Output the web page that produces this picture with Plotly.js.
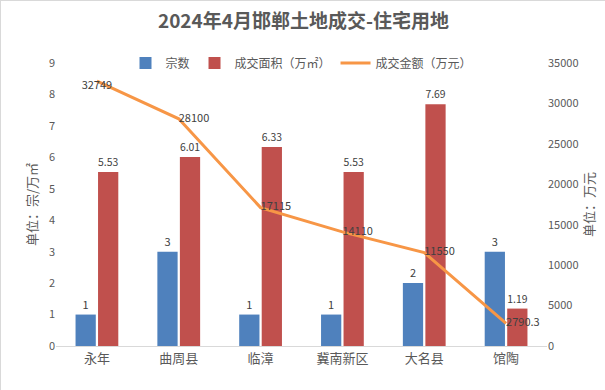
<!DOCTYPE html>
<html>
<head>
<meta charset="utf-8">
<script src="https://cdn.plot.ly/plotly-3.0.1.min.js"></script>
<style>
html,body{margin:0;padding:0;background:#fff;}
#chart{width:605px;height:390px;box-sizing:border-box;border:1px solid #d9d9d9;}
</style>
</head>
<body>
<div id="chart"></div>
<script>
const categories = ["永年", "曲周县", "临漳", "冀南新区", "大名县", "馆陶"];
const countValues = [1, 3, 1, 1, 2, 3];
const areaValues = [5.53, 6.01, 6.33, 5.53, 7.69, 1.19];
const amountValues = [32749, 28100, 17115, 14110, 11550, 2790.3];

const FONT = '"Noto Sans CJK SC", "Microsoft YaHei", sans-serif';
const labelColor = '#404040';

const traces = [
  {
    type: 'bar', name: '宗数', x: categories, y: countValues,
    marker: {color: '#4f81bd'},
    text: countValues.map(String), textposition: 'outside',
    textfont: {color: labelColor, size: 11, family: FONT},
    cliponaxis: false, yaxis: 'y'
  },
  {
    type: 'bar', name: '成交面积（万㎡）', x: categories, y: areaValues,
    marker: {color: '#c0504d'},
    text: areaValues.map(String), textposition: 'outside',
    textfont: {color: labelColor, size: 11, family: FONT},
    cliponaxis: false, yaxis: 'y'
  },
  {
    type: 'scatter', mode: 'lines+text', name: '成交金额（万元）',
    x: categories, y: amountValues, yaxis: 'y2',
    line: {color: '#f79646', width: 3},
    text: amountValues.map(String),
    textposition: ['bottom center', 'middle right', 'middle right', 'middle right', 'middle right', 'middle right'],
    textfont: {color: labelColor, size: 11, family: FONT},
    cliponaxis: false
  }
];

const layout = {
  width: 605, height: 390,
  margin: {l: 55, r: 59, t: 62, b: 45},
  paper_bgcolor: '#fff', plot_bgcolor: '#fff',
  font: {family: FONT, color: '#595959', size: 11},
  title: {text: '<b>2024年4月邯郸土地成交-住宅用地</b>', x: 0.5, xanchor: 'center', y: 0.949, yanchor: 'middle', yref: 'container',
    font: {size: 19, color: '#595959', family: FONT}},
  barmode: 'group', bargap: 0.45, bargroupgap: 0.1,
  showlegend: true,
  legend: {orientation: 'h', x: 0.5, xanchor: 'center', y: 1.0, yanchor: 'middle',
    font: {size: 12, color: '#595959', family: FONT}, traceorder: 'normal', itemwidth: 30},
  xaxis: {type: 'category', showline: true, linecolor: '#d9d9d9', linewidth: 1,
    ticks: '', tickfont: {size: 13, color: '#595959'}, showgrid: false, zeroline: false},
  yaxis: {range: [0, 9], dtick: 1, showgrid: false, zeroline: false, showline: false,
    ticks: '', tickfont: {size: 11, color: '#595959'},
    title: {text: '单位：宗/万㎡', font: {size: 13, color: '#595959'}, standoff: 8}},
  yaxis2: {range: [0, 35000], dtick: 5000, overlaying: 'y', side: 'right', showgrid: false,
    zeroline: false, showline: false, ticks: '', tickformat: 'd',
    tickfont: {size: 11, color: '#595959'},
    title: {text: '单位：万元', font: {size: 13, color: '#595959'}, standoff: 2}}
};

Plotly.newPlot('chart', traces, layout, {displayModeBar: false, staticPlot: true});
</script>
</body>
</html>
